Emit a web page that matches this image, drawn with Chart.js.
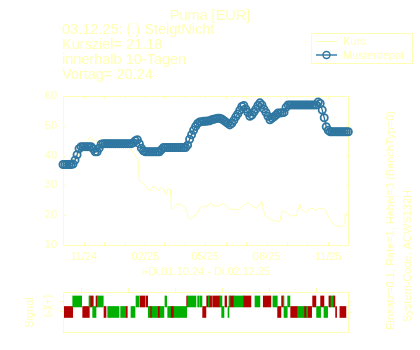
<!DOCTYPE html>
<html>
<head>
<meta charset="utf-8">
<script src="https://cdn.jsdelivr.net/npm/chart.js@4/dist/chart.umd.min.js"></script>
<style>
  html, body { margin: 0; padding: 0; background: #fff; }
  #wrap { position: relative; width: 420px; height: 350px; }
  #main { position: absolute; left: 0; top: 0; }
  #signal { position: absolute; left: 0; top: 280px; }
</style>
</head>
<body>
<div id="wrap">
  <canvas id="main" width="420" height="350"></canvas>
  <canvas id="signal" width="420" height="70"></canvas>
</div>
<script>
// days counted from Di, 01.10.24
const kursDays = [0,7,15,22,30,36,40,43,48,55,63,70,78,85,93,100,105,107,112,114,117,122,127,130,135,140,142,146,150,154,157,160,161,162,166,170,177,182,185,187,190,195,200,205,212,217,221,224,232,238,244,249,257,262,272,277,282,289,294,297,298,302,309,319,324,327,334,339,349,351,354,356,364,371,376,384,391,396,401,406,411,416,420,421,426];
const kursValues = [37.5,37.0,38.0,40.0,42.5,44.5,46.2,45.5,45.0,44.0,43.5,44.5,44.0,44.5,43.5,42.3,41.0,40.3,38.7,31.4,31.1,30.3,28.7,28.1,29.8,28.9,28.1,29.2,28.7,27.0,28.9,28.7,26.4,22.0,22.6,23.7,23.7,22.6,21.4,19.2,18.4,19.6,20.3,22.6,23.1,23.1,24.2,23.1,23.1,23.9,23.1,22.0,22.0,21.8,23.7,24.2,23.1,22.3,23.7,24.8,22.6,19.8,18.7,17.9,18.1,21.4,20.9,19.8,19.8,22.0,23.7,22.0,20.9,22.6,21.7,22.3,22.0,19.8,17.6,16.4,16.4,16.1,17.0,20.3,20.9];

const depotDays = [0,3,6,9,12,15,18,21,24,27,30,33,36,39,42,45,48,51,54,57,60,63,66,69,72,75,78,81,84,87,90,93,96,99,102,105,108,111,114,117,120,123,126,129,132,135,138,141,144,147,150,153,156,159,162,165,168,171,174,177,180,183,186,189,192,195,198,201,204,207,210,213,216,219,222,225,228,231,234,237,240,243,246,249,252,255,258,261,264,267,270,273,276,279,282,285,288,291,294,297,300,303,306,309,312,315,318,321,324,327,330,333,336,339,342,345,348,351,354,357,360,363,366,369,372,375,378,381,384,387,390,393,396,399,402,405,408,411,414,417,420,423,426];
const depotValues = [37,37,37,37,37,37.2,38.5,40.3,42.3,43,
  43,43,43,43,43,42.3,41.3,41.3,42.5,43.8,
  44,44,44,44,44,44,44,44,44,44,
  44,44,44,44,44,44.3,45,45.3,44,42.5,
  41.6,41.3,41.3,41.3,41.3,41.3,41.3,41.3,41.3,42,
  42.7,42.7,42.7,42.7,42.7,42.7,42.7,42.7,42.7,42.7,
  42.7,42.7,43.5,45.5,47,48.5,49.8,50.8,51.3,51.4,
  51.5,51.5,51.6,51.7,52,52.2,52.4,52.5,52.5,52.3,
  51.8,51.3,50.8,50.3,50.8,51.8,53,54,55.2,56.5,
  56.8,55.6,54.5,53.2,53.6,54.6,55.6,56.8,57.7,57,
  55.6,54.5,53.2,52,52.5,53,53.6,54.3,54.3,54.4,
  54.5,56.2,57,57,57,57,57,57,57,57,
  57,57,57,57,57,57,57,58,57.5,55.3,
  52.7,49.7,48.5,48,48,48,48,48,48,48,
  48,48,48];

const monthDays = [0,31,61,92,123,151,182,212,243,273,304,335,365,396,426];
const tickDays = [31,123,212,304,396];
const tickLabels = ['11/24','02/25','05/25','08/25','11/25'];
const yTicks = [10,20,30,40,50,60];

// signal segments [from, to] in days
const plusGreen = [[14.5,27.9],[38.8,40.3],[51.2,60.1],[109,113.4],[152.2,154.8],[186.1,198.5],[201,203.4],[204.5,207.5],[216.9,218.4],[234.3,237.3],[247.8,249.3],[255.2,269.1],[286.6,294],[313.4,319.9],[328.8,329.9],[335.4,338.8],[400,403.4]];
const plusRed = [[40.3,45.2],[49.3,51.2],[114.9,122.4],[123.9,126.4],[184.6,186.1],[214.5,216.9],[218.4,221.9],[223.4,234.3],[241.8,244.3],[249.3,255.2],[269.1,280.6],[299,310.4],[326.4,328.8],[372.7,377.6],[384.6,389.6],[397,399.6],[403.4,406]];
const minusGreen = [[44.3,49.3],[66.7,83.6],[86.1,93.6],[101.5,107.5],[127.3,129.9],[132.8,141.3],[144.8,150.7],[156.3,160.7],[165.7,184.6],[236.9,240.3],[246.3,247.8],[329.9,334.8],[350.3,359.7],[363.7,365.2],[378.6,384.6],[389.6,395.1]];
const minusRed = [[0,14.5],[29.4,39.3],[61.2,64.2],[93.6,96],[129.9,132.8],[141.3,144.8],[160.7,165.7],[208.5,213.4],[320.4,325.4],[339.9,350.3],[359.7,363.7],[365.2,371.2],[407,408.5],[413.4,422.4]];
const signalTicks = [28,98,168,238,308,378];

const titleText = 'Puma [EUR]';
const infoLines = ['03.12.25: (.) SteigtNicht', 'Kursziel= 21.18', 'innerhalb 10-Tagen', 'Vortag= 20.24'];
const sideLines = ['Einsatz=0.1, Rate=1, Hebel=3 (BenchTyp=0)', 'System-Code: ACWS132H'];
const rangeText = '\u00bbDi,01.10.24 - Di,02.12.25';

const yellow = '#ffffb4';
const blue = '#2f77a1';
const red = '#b00000';
const green = '#00b000';
const fam = "'Liberation Sans', Arial, sans-serif";

Chart.defaults.font.family = fam;
Chart.defaults.color = yellow;

function pairs(xs, ys) {
    return xs.map(function (x, i) { return {x: x, y: ys[i]}; });
}

const mainPlugin = {
    id: 'mainDeco',
    beforeDatasetsDraw: function (chart) {
        let ctx = chart.ctx, a = chart.chartArea;
        let xs = chart.scales.x, ys = chart.scales.y;
        ctx.save();
        ctx.strokeStyle = yellow;
        ctx.lineWidth = 1;
        ctx.strokeRect(a.left + 0.5, a.top + 0.5, a.right - a.left - 1, a.bottom - a.top);
        ctx.beginPath();
        monthDays.forEach(function (d) {
            let px = Math.round(xs.getPixelForValue(d)) + 0.5;
            ctx.moveTo(px, a.top); ctx.lineTo(px, a.top + 3);
            ctx.moveTo(px, a.bottom); ctx.lineTo(px, a.bottom - 3);
        });
        yTicks.forEach(function (v) {
            let py = Math.round(ys.getPixelForValue(v)) + 0.5;
            ctx.moveTo(a.left, py); ctx.lineTo(a.left + 3, py);
            ctx.moveTo(a.right, py); ctx.lineTo(a.right - 3, py);
        });
        ctx.stroke();
        ctx.restore();
    },
    afterDraw: function (chart) {
        let ctx = chart.ctx;
        ctx.save();
        ctx.fillStyle = yellow;
        ctx.textBaseline = 'alphabetic';
        ctx.font = '14.5px ' + fam;
        ctx.textAlign = 'center';
        ctx.fillText(titleText, 210, 20);
        ctx.textAlign = 'left';
        infoLines.forEach(function (t, i) {
            ctx.fillText(t, 62, 34 + i * 15);
        });

        // legend
        ctx.strokeStyle = yellow;
        ctx.lineWidth = 1;
        ctx.strokeRect(311.5, 33.5, 101, 30);
        ctx.beginPath();
        ctx.moveTo(316, 41.5); ctx.lineTo(337, 41.5);
        ctx.stroke();
        ctx.strokeStyle = blue;
        ctx.lineWidth = 1.4;
        ctx.beginPath();
        ctx.moveTo(316, 55); ctx.lineTo(337, 55);
        ctx.stroke();
        ctx.beginPath();
        ctx.arc(326.5, 55, 3.5, 0, Math.PI * 2);
        ctx.stroke();
        ctx.font = '11px ' + fam;
        ctx.textBaseline = 'middle';
        ctx.fillText(chart.data.datasets[1].label, 343, 42);
        ctx.fillText(chart.data.datasets[0].label, 343, 55.5);

        // side notes
        ctx.textBaseline = 'middle';
        ctx.save();
        ctx.translate(391, 330);
        ctx.rotate(-Math.PI / 2);
        ctx.fillText(sideLines[0], 0, 0);
        ctx.restore();
        ctx.save();
        ctx.translate(408, 322);
        ctx.rotate(-Math.PI / 2);
        ctx.fillText(sideLines[1], 0, 0);
        ctx.restore();
        ctx.restore();
    }
};

new Chart(document.getElementById('main'), {
    type: 'line',
    data: {
        datasets: [{
            label: 'Musterdepot',
            data: pairs(depotDays, depotValues),
            borderColor: blue,
            borderWidth: 1.3,
            pointRadius: 3.6,
            pointBorderWidth: 1.8,
            pointBorderColor: blue,
            pointBackgroundColor: 'rgba(0,0,0,0)',
            clip: false,
            order: 0
        }, {
            label: 'Kurs',
            data: pairs(kursDays, kursValues),
            borderColor: yellow,
            borderWidth: 1,
            pointRadius: 0,
            order: 1
        }]
    },
    options: {
        responsive: false,
        animation: false,
        layout: {padding: {top: 96, right: 71, bottom: 70, left: 0}},
        plugins: {legend: {display: false}, tooltip: {enabled: false}},
        elements: {line: {tension: 0}},
        scales: {
            x: {
                type: 'linear',
                min: 0,
                max: 427,
                grid: {display: false, drawTicks: false},
                border: {display: false},
                afterBuildTicks: function (scale) {
                    scale.ticks = monthDays.map(function (d) { return {value: d}; });
                },
                afterFit: function (scale) { scale.height = 35; },
                ticks: {
                    autoSkip: false,
                    maxRotation: 0,
                    padding: 5,
                    font: {size: 11},
                    color: yellow,
                    callback: function (v) {
                        let i = tickDays.indexOf(v);
                        return i < 0 ? '' : tickLabels[i];
                    }
                },
                title: {display: true, text: rangeText, color: yellow, font: {size: 11}, padding: {top: 0, bottom: 1}}
            },
            y: {
                min: 10,
                max: 60,
                grid: {display: false, drawTicks: false},
                border: {display: false},
                afterBuildTicks: function (scale) {
                    scale.ticks = yTicks.map(function (v) { return {value: v}; });
                },
                afterFit: function (scale) { scale.width = 63; },
                ticks: {padding: 6, font: {size: 11}, color: yellow}
            }
        }
    },
    plugins: [mainPlugin]
});

const signalPlugin = {
    id: 'signalDeco',
    afterDraw: function (chart) {
        let ctx = chart.ctx, a = chart.chartArea, ys = chart.scales.y;
        ctx.save();
        ctx.strokeStyle = yellow;
        ctx.lineWidth = 1;
        ctx.strokeRect(a.left + 0.5, a.top + 0.5, a.right - a.left - 1, a.bottom - a.top - 1);
        ctx.beginPath();
        [0, 1].forEach(function (v) {
            let py = Math.round(ys.getPixelForValue(v)) + 0.5;
            ctx.moveTo(a.right, py); ctx.lineTo(a.right + 3, py);
        });
        ctx.stroke();
        ctx.fillStyle = yellow;
        ctx.font = '11px ' + fam;
        ctx.textAlign = 'center';
        ctx.textBaseline = 'middle';
        [['(+)', 1], ['(-)', 0]].forEach(function (l) {
            ctx.save();
            ctx.translate(48, ys.getPixelForValue(l[1]));
            ctx.rotate(-Math.PI / 2);
            ctx.fillText(l[0], 0, 0);
            ctx.restore();
        });
        ctx.restore();
    }
};

function segs(list, row) {
    return list.map(function (s) { return {x: s, y: row}; });
}

new Chart(document.getElementById('signal'), {
    type: 'bar',
    data: {
        datasets: [{
            data: segs(plusGreen, 1).concat(segs(minusGreen, 0)),
            backgroundColor: green,
            borderWidth: 0,
            grouped: false,
            barThickness: 11
        }, {
            data: segs(plusRed, 1).concat(segs(minusRed, 0)),
            backgroundColor: red,
            borderWidth: 0,
            grouped: false,
            barThickness: 11
        }]
    },
    options: {
        indexAxis: 'y',
        responsive: false,
        animation: false,
        layout: {padding: {top: 0, right: 71, bottom: 17, left: 0}},
        plugins: {legend: {display: false}, tooltip: {enabled: false}},
        scales: {
            x: {
                type: 'linear',
                position: 'top',
                min: 0,
                max: 427,
                offset: false,
                grid: {drawOnChartArea: false, tickLength: 4, color: yellow, offset: false},
                border: {display: true, color: yellow},
                afterBuildTicks: function (scale) {
                    scale.ticks = signalTicks.map(function (d) { return {value: d}; });
                },
                afterFit: function (scale) { scale.height = 12; },
                ticks: {display: false}
            },
            y: {
                type: 'linear',
                min: -2,
                max: 1.9,
                offset: false,
                grid: {drawOnChartArea: false, tickLength: 3, color: yellow, offset: false},
                border: {display: true, color: yellow},
                afterBuildTicks: function (scale) {
                    scale.ticks = [{value: 0}, {value: 1}];
                },
                afterFit: function (scale) { scale.width = 63; },
                ticks: {display: false},
                title: {display: true, text: 'Signal', color: yellow, font: {size: 11}, padding: {top: 23.4, bottom: 0}}
            }
        }
    },
    plugins: [signalPlugin]
});
</script>
</body>
</html>
